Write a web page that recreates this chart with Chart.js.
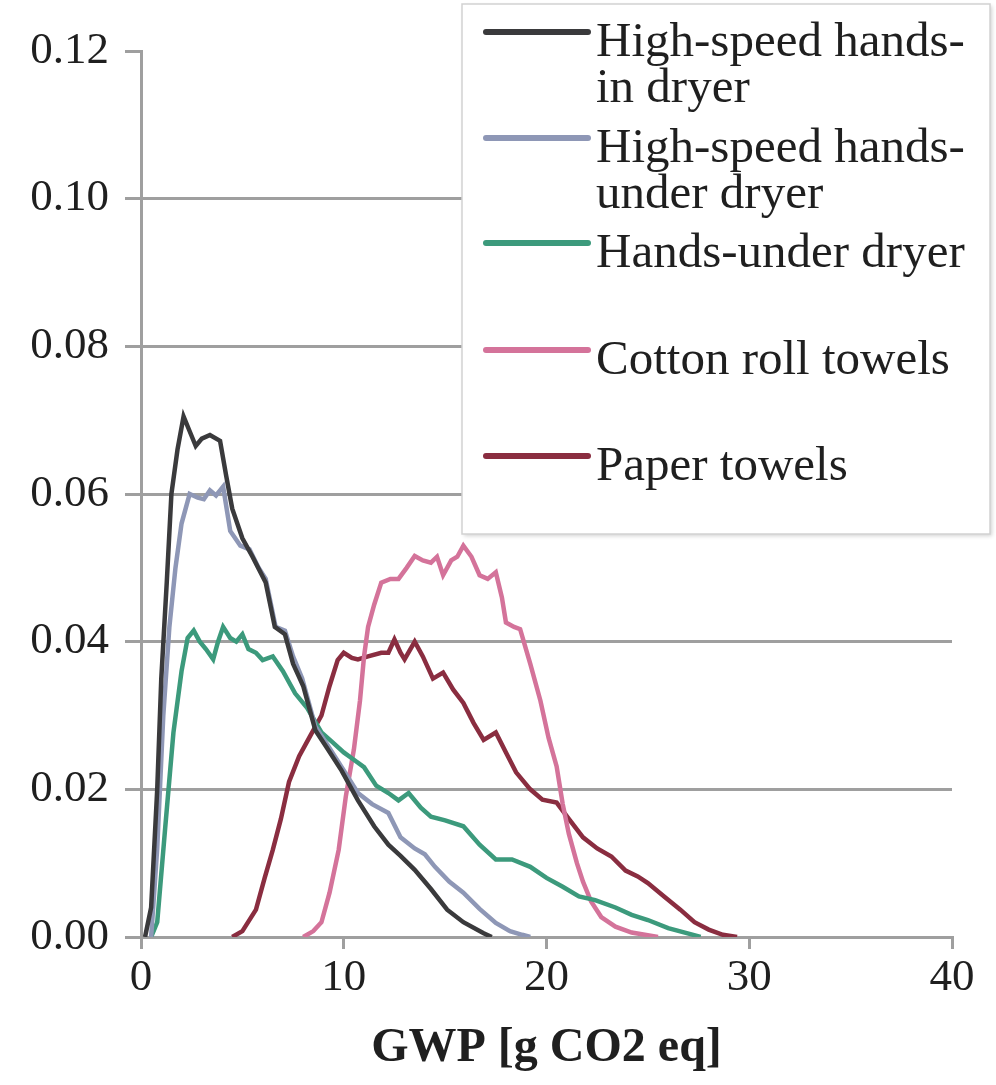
<!DOCTYPE html>
<html>
<head>
<meta charset="utf-8">
<script src="https://cdn.jsdelivr.net/npm/chart.js@4.4.1/dist/chart.umd.min.js"></script>
<style>
    body { margin: 0; background: #fff; }
    .chart-container { position: relative; width: 996px; height: 1085px; }
</style>
</head>
<body>
<div class="chart-container">
    <canvas id="gwpChart"></canvas>
</div>
<script>
const seriesNames = [
    ["High-speed hands-", "in dryer"],
    ["High-speed hands-", "under dryer"],
    ["Hands-under dryer"],
    ["Cotton roll towels"],
    ["Paper towels"],
];
const seriesColors = ["#3a3a3c", "#8e97b6", "#3c9a7c", "#d4739a", "#8a2d40"];

const xTicks = [0, 10, 20, 30, 40];
const yTicks = [0, 0.02, 0.04, 0.06, 0.08, 0.10, 0.12];

// high-speed hands-in dryer
const inDryerX = [0.2, 0.5, 0.8, 1.0, 1.27, 1.5, 1.8, 2.1, 2.4, 2.7, 3.0, 3.4, 3.9, 4.2, 4.5, 5.0, 5.5, 6.15, 6.6, 7.1, 7.5, 8.0, 8.6, 9.2, 9.9, 10.7, 11.5, 12.2, 12.8, 13.5, 14.3, 15.1, 15.9, 16.9, 17.3];
const inDryerY = [0, 0.004, 0.02, 0.035, 0.048, 0.060, 0.066, 0.0705, 0.0685, 0.0665, 0.0675, 0.068, 0.0672, 0.0625, 0.058, 0.054, 0.0515, 0.048, 0.042, 0.041, 0.037, 0.034, 0.028, 0.0255, 0.0225, 0.0185, 0.015, 0.0125, 0.011, 0.0091, 0.0065, 0.0037, 0.002, 0.0005, 0];

// high-speed hands-under dryer
const underHsX = [0.5, 0.8, 1.1, 1.4, 1.7, 2.0, 2.4, 2.8, 3.1, 3.4, 3.7, 4.05, 4.4, 4.9, 5.35, 5.8, 6.15, 6.64, 7.1, 7.5, 7.95, 8.6, 9.2, 9.9, 10.7, 11.4, 12.2, 12.8, 13.5, 14.0, 14.5, 15.2, 15.9, 16.7, 17.5, 18.2, 18.8, 19.2];
const underHsY = [0, 0.012, 0.03, 0.042, 0.05, 0.056, 0.060, 0.0595, 0.0593, 0.0605, 0.0598, 0.061, 0.055, 0.053, 0.0525, 0.05, 0.0485, 0.042, 0.0415, 0.038, 0.035, 0.0285, 0.026, 0.023, 0.0195, 0.018, 0.0168, 0.0135, 0.012, 0.0112, 0.0095, 0.0075, 0.006, 0.0038, 0.0019, 0.0008, 0.0003, 0];

// hands-under dryer
const underX = [0.5, 0.8, 1.2, 1.6, 2.0, 2.3, 2.6, 2.9, 3.2, 3.56, 3.8, 4.05, 4.4, 4.7, 5.0, 5.3, 5.67, 6.0, 6.5, 7.0, 7.6, 8.2, 8.9, 9.4, 10.0, 10.5, 11.0, 11.6, 12.2, 12.7, 13.2, 13.8, 14.3, 15.0, 15.9, 16.7, 17.5, 18.3, 19.2, 20.0, 20.8, 21.6, 22.4, 23.4, 24.2, 25.0, 26.0, 27.1, 27.6];
const underY = [0, 0.002, 0.015, 0.0277, 0.036, 0.0405, 0.0415, 0.04, 0.039, 0.0376, 0.040, 0.042, 0.0405, 0.040, 0.041, 0.039, 0.0385, 0.0375, 0.038, 0.036, 0.033, 0.031, 0.0277, 0.0265, 0.025, 0.024, 0.023, 0.0205, 0.0195, 0.0185, 0.0195, 0.0175, 0.0163, 0.0158, 0.015, 0.0125, 0.0105, 0.0105, 0.0095, 0.008, 0.0068, 0.0055, 0.005, 0.004, 0.003, 0.0023, 0.0012, 0.0004, 0];

// cotton roll towels
const cottonX = [8.0, 8.5, 8.9, 9.3, 9.75, 10.1, 10.5, 10.8, 11.0, 11.2, 11.5, 11.85, 12.3, 12.7, 13.1, 13.5, 13.9, 14.3, 14.6, 14.9, 15.3, 15.6, 15.9, 16.3, 16.7, 17.1, 17.5, 17.8, 18.0, 18.4, 18.7, 19.2, 19.7, 20.1, 20.5, 20.8, 21.1, 21.5, 21.8, 22.2, 22.7, 23.4, 24.2, 25.5];
const cottonY = [0, 0.0008, 0.002, 0.006, 0.0118, 0.019, 0.0254, 0.032, 0.038, 0.042, 0.045, 0.048, 0.0485, 0.0485, 0.050, 0.0516, 0.051, 0.0507, 0.0515, 0.049, 0.051, 0.0515, 0.053, 0.0515, 0.049, 0.0485, 0.0494, 0.046, 0.0426, 0.042, 0.0417, 0.037, 0.032, 0.027, 0.0231, 0.018, 0.014, 0.010, 0.0075, 0.0048, 0.0027, 0.0014, 0.0006, 0];

// paper towels
const paperX = [4.5, 5.0, 5.67, 6.1, 6.5, 6.9, 7.3, 7.8, 8.3, 8.9, 9.3, 9.7, 10.0, 10.4, 10.7, 11.2, 11.85, 12.2, 12.5, 12.8, 13.0, 13.5, 13.9, 14.4, 14.9, 15.4, 15.9, 16.4, 16.9, 17.5, 18.0, 18.5, 19.2, 19.8, 20.5, 21.1, 21.8, 22.5, 23.2, 23.9, 24.5, 25.0, 25.8, 26.6, 27.3, 28.0, 28.7, 29.4];
const paperY = [0, 0.0008, 0.0037, 0.008, 0.0118, 0.016, 0.021, 0.0245, 0.027, 0.030, 0.034, 0.0375, 0.0385, 0.0378, 0.0376, 0.038, 0.0385, 0.0385, 0.0403, 0.0385, 0.0376, 0.040, 0.038, 0.035, 0.0358, 0.0335, 0.0317, 0.029, 0.0267, 0.0277, 0.025, 0.0223, 0.020, 0.0186, 0.0182, 0.016, 0.0135, 0.012, 0.0109, 0.009, 0.0082, 0.0073, 0.0055, 0.0037, 0.002, 0.001, 0.0003, 0];

const seriesX = [inDryerX, underHsX, underX, cottonX, paperX];
const seriesY = [inDryerY, underHsY, underY, cottonY, paperY];

const gridGray = "#9f9f9f";
const textColor = "#1f1f1f";
const serif = "'Liberation Serif', 'DejaVu Serif', serif";

// legend sits inside the plot, like the excel one
const legendBox = {
    id: "legendBox",
    afterDraw: (chart) => {
        const ctx = chart.ctx;
        const lineYs = [32, 138, 243, 350, 456];
        ctx.save();
        ctx.shadowColor = "rgba(0,0,0,0.18)";
        ctx.shadowBlur = 4;
        ctx.shadowOffsetX = 2;
        ctx.shadowOffsetY = 2;
        ctx.fillStyle = "#fff";
        ctx.fillRect(462, 4, 528, 530);
        ctx.shadowColor = "transparent";
        ctx.strokeStyle = "#d2d2d2";
        ctx.lineWidth = 1.5;
        ctx.strokeRect(462, 4, 528, 530);

        chart.data.datasets.forEach((ds, i) => {
            const y = lineYs[i];
            ctx.strokeStyle = ds.borderColor;
            ctx.lineWidth = 6;
            ctx.lineCap = "round";
            ctx.beginPath();
            ctx.moveTo(486, y);
            ctx.lineTo(588, y);
            ctx.stroke();

            ctx.fillStyle = textColor;
            ctx.font = "49px " + serif;
            ctx.textAlign = "left";
            ctx.textBaseline = "alphabetic";
            seriesNames[i].forEach((txt, j) => {
                ctx.fillText(txt, 596, y + 24 + j * 46);
            });
        });
        ctx.restore();
    },
};

const buildChart = () => {
    let ctx = document.getElementById("gwpChart").getContext("2d");

    window.gwpChart = new Chart(ctx, {
        type: "line",
        data: {
            datasets: seriesNames.map((name, i) => ({
                label: name.join(""),
                data: seriesX[i].map((x, k) => ({ x: x, y: seriesY[i][k] })),
                borderColor: seriesColors[i],
                backgroundColor: seriesColors[i],
                borderWidth: 4.5,
                pointRadius: 0,
                tension: 0,
                fill: false,
            })),
        },
        options: {
            responsive: true,
            maintainAspectRatio: false,
            animation: false,
            layout: {
                padding: { left: 0, right: 44, top: 51, bottom: 0 },
            },
            scales: {
                x: {
                    type: "linear",
                    min: 0,
                    max: 40,
                    afterBuildTicks: (scale) => {
                        scale.ticks = xTicks.map((v) => ({ value: v }));
                    },
                    afterFit: (scale) => {
                        scale.height = 148;
                    },
                    grid: {
                        drawOnChartArea: false,
                        color: gridGray,
                        lineWidth: 3,
                        tickLength: 12,
                    },
                    border: { display: true, color: gridGray, width: 3 },
                    ticks: {
                        padding: 2,
                        color: textColor,
                        font: { family: serif, size: 45 },
                    },
                    title: {
                        display: true,
                        text: "GWP [g CO2 eq]",
                        color: textColor,
                        font: { family: serif, size: 48, weight: "bold" },
                        padding: { top: 0, bottom: 8 },
                    },
                },
                y: {
                    min: 0,
                    max: 0.12,
                    afterBuildTicks: (scale) => {
                        scale.ticks = yTicks.map((v) => ({ value: v }));
                    },
                    afterFit: (scale) => {
                        scale.width = 141;
                    },
                    grid: {
                        color: (c) => (c.tick && c.tick.value >= 0.12 ? "rgba(0,0,0,0)" : gridGray),
                        tickColor: gridGray,
                        lineWidth: 3,
                        tickLength: 16,
                    },
                    border: { display: true, color: gridGray, width: 3 },
                    ticks: {
                        padding: 16,
                        color: textColor,
                        font: { family: serif, size: 45 },
                        callback: (v) => Number(v).toFixed(2),
                    },
                },
            },
            plugins: {
                legend: { display: false },
                tooltip: { enabled: false },
            },
        },
        plugins: [legendBox],
    });
};

buildChart();
</script>
</body>
</html>
